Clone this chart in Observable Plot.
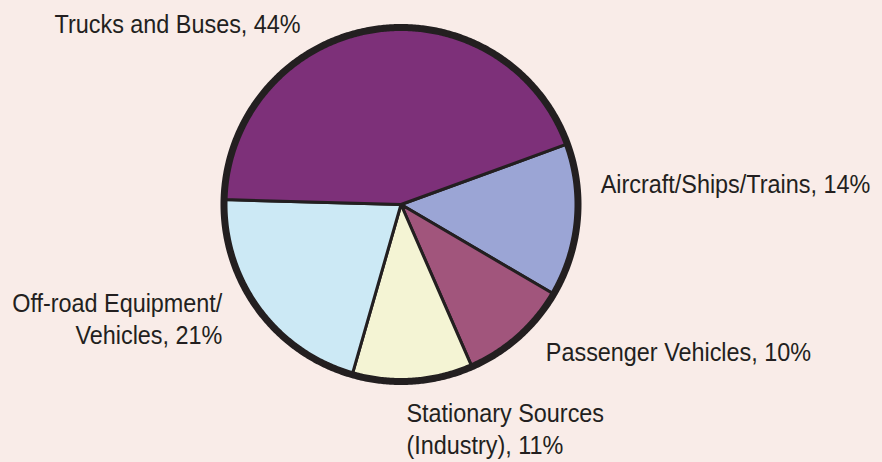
<!DOCTYPE html>
<html><head><meta charset="utf-8">
<script src="https://cdn.jsdelivr.net/npm/d3@7"></script>
<script src="https://cdn.jsdelivr.net/npm/@observablehq/plot@0.6"></script>
<style>html,body{margin:0;padding:0;background:#f9ece8;overflow:hidden;}</style>
</head><body><div id="chart"></div>
<script>
// ---- data ----
const categories = ["Aircraft/Ships/Trains", "Passenger Vehicles", "Stationary Sources (Industry)", "Off-road Equipment/Vehicles", "Trucks and Buses"];
const shares = [14, 10, 11, 21, 44];
const labels = ["Aircraft/Ships/Trains, 14%", "Passenger Vehicles, 10%", "Stationary Sources\n(Industry), 11%", "Off-road Equipment/\nVehicles, 21%", "Trucks and Buses, 44%"];
const colors = ["#9ba5d5", "#a1557c", "#f4f4d4", "#cce9f5", "#7d3079"];

// ---- layout ----
const W = 882, H = 462, CX = 400.5, CY = 204, R = 177, ROUT = 180.5;
const startDeg = 70;
const FONT_SCALE_X = 0.9; // condensed look
// label offsets (pixels) from the slice's outer edge at mid-angle, to last-line baseline
const labelLayout = {
  "Aircraft/Ships/Trains": {dx: 20, dy: -28, anchor: "start"},
  "Passenger Vehicles": {dx: 25, dy: 22, anchor: "start"},
  "Stationary Sources (Industry)": {dx: -6.5, dy: 69, anchor: "start"},
  "Off-road Equipment/Vehicles": {dx: -33, dy: 32.5, anchor: "end"},
  "Trucks and Buses": {dx: -71.5, dy: 7, anchor: "end"}
};

const data = categories.map((c, i) => ({name: c, share: shares[i], label: labels[i]}));
const s0 = startDeg * Math.PI / 180;
const arcs = d3.pie().sort(null).value(d => d.share).startAngle(s0).endAngle(s0 + 2 * Math.PI)(data);

const pts = [];
for (const a of arcs) {
  pts.push({name: a.data.name, x: 0, y: 0});
  const n = Math.max(2, Math.ceil((a.endAngle - a.startAngle) / (Math.PI / 360)));
  for (let k = 0; k <= n; k++) {
    const t = a.startAngle + (a.endAngle - a.startAngle) * k / n;
    pts.push({name: a.data.name, x: Math.sin(t), y: Math.cos(t)});
  }
}
const ring = d3.range(0, 720).map(k => ({x: Math.sin(k * Math.PI / 360), y: Math.cos(k * Math.PI / 360)}));

const kOut = ROUT / R;
const labelRows = arcs.map(a => {
  const m = (a.startAngle + a.endAngle) / 2;
  const L = labelLayout[a.data.name];
  return {
    x: Math.sin(m) * kOut + L.dx / R,
    y: Math.cos(m) * kOut - L.dy / R,
    text: a.data.label,
    anchor: L.anchor
  };
});

const textOpts = {x: "x", y: "y", text: "text", lineAnchor: "bottom", lineHeight: 1.22, fill: "#231f20", fontSize: 26};

const chart = Plot.plot({
  width: W, height: H,
  margin: 0,
  x: {domain: [-CX / R, (W - CX) / R], range: [0, W], axis: null},
  y: {domain: [-(H - CY) / R, CY / R], range: [H, 0], axis: null},
  color: {domain: categories, range: colors},
  style: {background: "#f9ece8", fontFamily: "'Liberation Sans', Arial, sans-serif", overflow: "visible"},
  marks: [
    Plot.line(pts, {x: "x", y: "y", z: "name", fill: "name", stroke: "#231f20", strokeWidth: 3, strokeLinejoin: "round", curve: "linear-closed"}),
    Plot.line(ring, {x: "x", y: "y", stroke: "#231f20", strokeWidth: 7, curve: "linear-closed"}),
    Plot.text(labelRows.filter(d => d.anchor === "start"), {...textOpts, textAnchor: "start"}),
    Plot.text(labelRows.filter(d => d.anchor === "end"), {...textOpts, textAnchor: "end"})
  ]
});

// condense label glyphs horizontally around their anchor points
chart.querySelectorAll('g[aria-label="text"] text').forEach(t => {
  const tr = t.getAttribute("transform");
  if (tr) {
    t.setAttribute("transform", `${tr} scale(${FONT_SCALE_X},1)`);
  } else {
    const x = +t.getAttribute("x") || 0, y = +t.getAttribute("y") || 0;
    t.setAttribute("transform", `translate(${x},${y}) scale(${FONT_SCALE_X},1) translate(${-x},${-y})`);
  }
});
document.getElementById("chart").appendChild(chart);
</script>
</body></html>
